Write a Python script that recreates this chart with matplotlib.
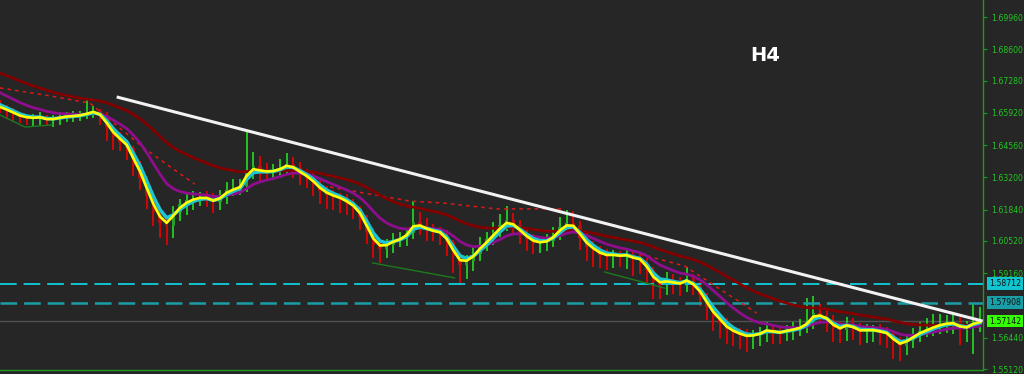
import numpy as np
import pandas as pd
import matplotlib
matplotlib.use("Agg")
import matplotlib.pyplot as plt
import matplotlib.transforms as mtransforms

plt.rcParams['lines.scale_dashes'] = False

# ---------------- data ----------------
closes = [
    1.6617, 1.6600, 1.6587, 1.6574, 1.6570, 1.6570, 1.6574, 1.6562, 1.6566, 1.6574,
    1.6579, 1.6579, 1.6583, 1.6591, 1.6600, 1.6579, 1.6532, 1.6490, 1.6469, 1.6444,
    1.6372, 1.6317, 1.6241, 1.6174, 1.6128, 1.6115, 1.6174, 1.6208, 1.6224, 1.6233,
    1.6237, 1.6233, 1.6216, 1.6237, 1.6267, 1.6275, 1.6284, 1.6351, 1.6368, 1.6347,
    1.6343, 1.6347, 1.6359, 1.6376, 1.6359, 1.6334, 1.6317, 1.6292, 1.6262, 1.6246,
    1.6237, 1.6229, 1.6212, 1.6191, 1.6153, 1.6090, 1.6035, 1.6018, 1.6035, 1.6056,
    1.6064, 1.6085, 1.6132, 1.6119, 1.6098, 1.6090, 1.6085, 1.6047, 1.5988, 1.5950,
    1.5967, 1.5997, 1.6035, 1.6060, 1.6090, 1.6119, 1.6140, 1.6119, 1.6085, 1.6060,
    1.6043, 1.6043, 1.6052, 1.6077, 1.6111, 1.6128, 1.6115, 1.6064, 1.6026, 1.6009,
    1.5993, 1.5988, 1.5993, 1.5988, 1.5993, 1.5976, 1.5972, 1.5929, 1.5879, 1.5866,
    1.5883, 1.5875, 1.5870, 1.5891, 1.5862, 1.5824, 1.5773, 1.5731, 1.5706, 1.5676,
    1.5664, 1.5655, 1.5647, 1.5655, 1.5664, 1.5681, 1.5668, 1.5664, 1.5676, 1.5681,
    1.5689, 1.5710, 1.5748, 1.5740, 1.5719, 1.5685, 1.5676, 1.5702, 1.5685, 1.5668,
    1.5676, 1.5676, 1.5668, 1.5660, 1.5626, 1.5609, 1.5634, 1.5655, 1.5672, 1.5681,
    1.5693, 1.5702, 1.5706, 1.5706, 1.5685, 1.5685, 1.5710, 1.5714,
]
first_open = 1.6630

# wick extensions beyond the candle body, in pips (0.0001)
wick_up_pips = [
    15, 10, 12, 8, 10, 15, 20, 10, 15, 20,
    15, 20, 15, 55, 20, 10, 15, 10, 20, 10,
    10, 15, 10, 15, 10, 20, 25, 20, 25, 30,
    20, 25, 20, 30, 35, 40, 30, 160, 60, 40,
    35, 30, 40, 45, 30, 25, 20, 25, 15, 20,
    20, 15, 20, 15, 10, 10, 15, 10, 25, 30,
    25, 20, 90, 40, 30, 25, 20, 15, 10, 15,
    25, 30, 35, 30, 40, 45, 60, 30, 20, 25,
    20, 25, 30, 35, 40, 55, 50, 20, 20, 25,
    20, 25, 20, 15, 20, 15, 20, 10, 15, 20,
    40, 30, 25, 50, 20, 15, 10, 10, 15, 20,
    15, 20, 25, 20, 25, 30, 20, 25, 20, 30,
    35, 100, 70, 40, 25, 20, 25, 30, 25, 20,
    25, 20, 25, 20, 15, 20, 25, 30, 40, 45,
    50, 40, 35, 40, 25, 30, 80, 60,
]
wick_dn_pips = [
    25, 30, 30, 25, 30, 35, 30, 25, 30, 25,
    20, 25, 20, 15, 20, 40, 60, 55, 40, 50,
    45, 50, 55, 60, 65, 80, 50, 40, 45, 40,
    35, 40, 45, 35, 30, 25, 30, 25, 40, 45,
    40, 35, 30, 25, 40, 45, 40, 50, 55, 60,
    55, 60, 50, 45, 55, 50, 55, 60, 40, 35,
    30, 35, 25, 40, 45, 40, 50, 60, 70, 80,
    60, 40, 30, 25, 25, 20, 25, 40, 45, 50,
    45, 40, 35, 25, 20, 25, 30, 50, 60, 65,
    55, 60, 50, 45, 55, 70, 60, 55, 70, 60,
    40, 45, 50, 35, 40, 45, 55, 60, 65, 60,
    55, 60, 65, 50, 45, 40, 50, 45, 35, 40,
    30, 25, 30, 40, 50, 60, 55, 45, 50, 55,
    45, 50, 55, 60, 70, 65, 40, 35, 30, 25,
    30, 35, 40, 45, 70, 60, 110, 40,
]

# moving-average settings and starting levels
fast_span, mid_span, slow_span, trend_span = 2, 3, 10, 28
mid_seed, slow_seed, trend_seed = 1.6635, 1.6690, 1.6770

# drawn lines (bar index, price)
red_dash_1 = ([0, 6.75, 13.5, 16.5, 21.4, 24.7, 29.2],
              [1.6697, 1.6667, 1.6633, 1.6562, 1.6448, 1.6381, 1.6292])
red_dash_2 = ([49.5, 61.5, 66.4, 74.5, 84.5],
              [1.6279, 1.6220, 1.6212, 1.6187, 1.6187])
red_dash_3 = ([96.0, 102.7, 108.0, 113.5],
              [1.5997, 1.5946, 1.5849, 1.5748])
green_line_1 = ([0, 3.75, 7.8], [1.6583, 1.6532, 1.6541])
green_line_2 = ([55.9, 68.2], [1.5959, 1.5896])
green_line_3 = ([90.7, 99.7], [1.5921, 1.5853])
trend_line = ([17.5, 147.4], [1.6659, 1.5714])

level_1 = 1.58712
level_2 = 1.57908
last_price = 1.57142

ytick_vals = [1.69960, 1.68600, 1.67280, 1.65920, 1.64560, 1.63200,
              1.61840, 1.60520, 1.59160, 1.56440, 1.55120]
ytick_labels = ["1.69960", "1.68600", "1.67280", "1.65920", "1.64560", "1.63200",
                "1.61840", "1.60520", "1.59160", "1.56440", "1.55120"]
timeframe_label = "H4"

# ---------------- derived ----------------
c = np.array(closes)
o = np.concatenate([[first_open], c[:-1]])
hi = np.maximum(o, c) + np.array(wick_up_pips) * 1e-4
lo = np.minimum(o, c) - np.array(wick_dn_pips) * 1e-4
x = np.arange(len(c))

s = pd.Series(c)
def ema(span, seed=None):
    if seed is None:
        return s.ewm(span=span, adjust=False).mean().values
    ss = pd.concat([pd.Series([seed]), s], ignore_index=True)
    return ss.ewm(span=span, adjust=False).mean().values[1:]

yellow = ema(fast_span)
cyan = ema(mid_span, mid_seed)
purple = ema(slow_span, slow_seed)
darkred = ema(trend_span, trend_seed)

# ---------------- figure ----------------
BG = "#262626"
GREEN_TXT = "#22c422"
AXIS_GREEN = "#1f9a1f"

fig = plt.figure(figsize=(10.24, 3.74), dpi=100, facecolor=BG)
ax = fig.add_axes([0, 4 / 374, 983 / 1024, 370 / 374])
ax.set_facecolor(BG)

bull = c >= o
# wicks
ax.vlines(x[bull], lo[bull], hi[bull], colors="#22dd22", linewidth=1.2, zorder=2)
ax.vlines(x[~bull], lo[~bull], hi[~bull], colors="#f00000", linewidth=1.2, zorder=2)
# bodies
ax.bar(x[bull], c[bull] - o[bull], bottom=o[bull], width=0.5,
       color="#2a9a2a", linewidth=0, zorder=2)
ax.bar(x[~bull], o[~bull] - c[~bull], bottom=c[~bull], width=0.5,
       color="#b01212", linewidth=0, zorder=2)

# horizontal levels
ax.axhline(last_price, color="#505050", linewidth=1.0, zorder=1)
l1 = ax.axhline(level_1, color="#10c4d0", linewidth=1.4, zorder=3)
l1.set_dashes((12, 5))
l2 = ax.axhline(level_2, color="#1a9ea6", linewidth=1.8, zorder=3)
l2.set_dashes((12, 5))

# drawn lines
for (lx, ly) in (green_line_1, green_line_2, green_line_3):
    ax.plot(lx, ly, color="#1d7a1d", linewidth=1.0, zorder=3)
for (lx, ly) in (red_dash_1, red_dash_2, red_dash_3):
    ln, = ax.plot(lx, ly, color="#e01818", linewidth=1.1, zorder=3)
    ln.set_dashes((2.5, 3))

# moving averages
ax.plot(x, darkred, color="#840000", linewidth=2.0, zorder=4)
ax.plot(x, purple, color="#8e0e8e", linewidth=2.0, zorder=4)
ax.plot(x, cyan, color="#1cc4d4", linewidth=2.6, zorder=5)
ax.plot(x, yellow, color="#ffff00", linewidth=1.9, zorder=6)

# trend line
ax.plot(trend_line[0], trend_line[1], color="#f2f2f2", linewidth=2.2,
        solid_capstyle="butt", zorder=7)

ax.text(0.778, 0.85, timeframe_label, transform=ax.transAxes, color="white",
        fontsize=14, fontweight="bold", ha="center", va="center", zorder=8)

# axes limits & styling
ax.set_xlim(0, 147.45)
ax.set_ylim(1.55078, 1.70677)
ax.set_xticks([])
ax.yaxis.tick_right()
ax.set_yticks(ytick_vals)
ax.set_yticklabels(ytick_labels)
ax.tick_params(axis="y", colors=AXIS_GREEN, labelcolor=GREEN_TXT,
               labelsize=5.6, length=3, width=0.8, pad=3)
for side in ("top", "left"):
    ax.spines[side].set_visible(False)
ax.spines["right"].set_color(AXIS_GREEN)
ax.spines["bottom"].set_color(AXIS_GREEN)
ax.spines["right"].set_linewidth(1.0)
ax.spines["bottom"].set_linewidth(1.0)

# price label boxes on the right axis
trans = mtransforms.blended_transform_factory(ax.transAxes, ax.transData)
for val, bg in ((level_1, "#10c4d0"), (level_2, "#1a9ea6"), (last_price, "#33ff00")):
    ax.text(1.006, val, f"{val:.5f}", transform=trans, ha="left", va="center",
            fontsize=5.6, color="#111111", zorder=9, clip_on=False,
            bbox=dict(boxstyle="square,pad=0.25", facecolor=bg, edgecolor="none"))

fig.savefig("out.png", dpi=100, facecolor=BG)
